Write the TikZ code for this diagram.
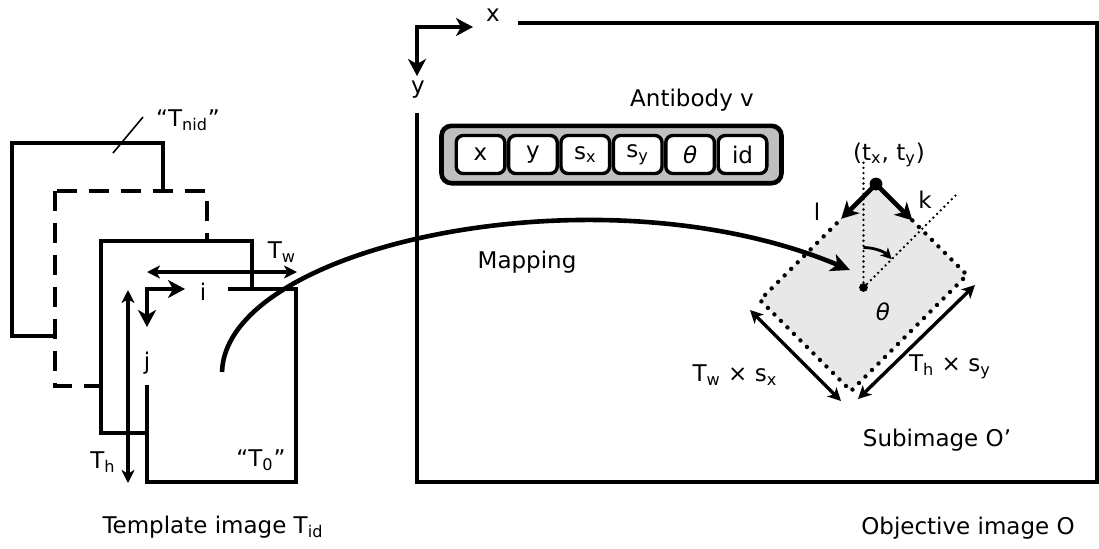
\documentclass[tikz,border=0pt]{standalone}
\usepackage{fontspec}
\setmainfont{DejaVu Sans}
\usetikzlibrary{arrows.meta,positioning,fit,backgrounds,calc}

\begin{document}
\begin{tikzpicture}[
  x=0.5pt,y=-0.5pt,
  every node/.style={font=\fontsize{11.5}{13}\selectfont,inner sep=0pt},
  frame/.style={line width=2.3pt},
  axis/.style={line width=2.3pt,-{Stealth[length=8.5pt,width=9pt,inset=2.5pt]}},
  biaxis/.style={line width=2.3pt,{Stealth[length=8.5pt,width=9pt,inset=2.5pt]}-{Stealth[length=8.5pt,width=9pt,inset=2.5pt]}},
  dim/.style={line width=1.7pt,{Stealth[length=6.5pt,width=6.5pt,inset=1.8pt]}-{Stealth[length=6.5pt,width=6.5pt,inset=1.8pt]}},
  dots/.style={line width=2.2pt,line cap=round,dash pattern=on 0pt off 4.6pt},
  finedots/.style={line width=1.3pt,line cap=round,dash pattern=on 0pt off 2.6pt},
  cell/.style={draw,line width=1.7pt,fill=white,rounded corners=3.5pt,minimum width=24.3pt,minimum height=19pt},
  vector/.style={draw,line width=2.3pt,fill=gray!50,rounded corners=5pt,inner xsep=6.5pt,inner ysep=4pt},
  node distance=0.2pt
]
\useasboundingbox (0,0) rectangle (1099,548);

% template stack
\draw[frame,fill=white] (12,143) rectangle (163,336);
\draw[frame,dash pattern=on 10pt off 6pt,fill=white] (55,191) rectangle (207,386);
\draw[frame,fill=white] (101,241) rectangle (252,433);
\fill[white] (147,289) rectangle (296,482);
\draw[frame] (228,289) -- (296,289) -- (296,482) -- (147,482) -- (147,385);

\coordinate (torigin) at (147,289);
\coordinate (iend) at (185,289);
\coordinate (jend) at (147,327);
\draw[biaxis] (iend) -- (torigin) -- (jend);
\node (ilabel) at (203,292) {i};
\node (jlabel) at (147,363) {j};

\coordinate (twleft) at (147,272);
\coordinate (twright) at (297,272);
\draw[dim] (twleft) -- (twright);
\node (twlabel) at (282,252) {T\textsubscript{w}};
\coordinate (thtop) at (128,290);
\coordinate (thbottom) at (128,483);
\draw[dim] (thtop) -- (thbottom);
\node (thlabel) at (103,462) {T\textsubscript{h}};

\node (tzero) at (261,460) {“T\textsubscript{0}”};
\node (tnid) at (188,120) {“T\textsubscript{nid}”};
\coordinate (nidfoot) at (113,153);
\coordinate (nidhead) at (143,117);
\draw[line width=0.8pt] (nidfoot) -- (nidhead);
\node (template) at (213,527) {Template image T\textsubscript{id}};

% objective image
\draw[frame] (518,23) -- (1097,23) -- (1097,482) -- (417,482) -- (417,113);
\coordinate (oorigin) at (417,27);
\coordinate (xend) at (473,27);
\coordinate (yend) at (417,76);
\draw[biaxis] (xend) -- (oorigin) -- (yend);
\node (xlabel) at (493,15) {x};
\node (ylabel) at (418,90) {y};
\node (objective) at (968,528) {Objective image O};

% antibody
\node (antlabel) at (692,100) {Antibody v};
\node[cell] (cx) at (480.5,154.5) {x};
\node[cell,right=of cx] (cy) {y};
\node[cell,right=of cy] (csx) {s\textsubscript{x}};
\node[cell,right=of csx] (csy) {s\textsubscript{y}};
\node[cell,right=of csy] (ctheta) {\itshape θ};
\node[cell,right=of ctheta] (cid) {id};
\begin{scope}[on background layer]
\node[vector,fit=(cx)(cid)] (antibody) {};
\end{scope}

% subimage
\coordinate (T) at (876,184);
\coordinate (R) at (967,275);
\coordinate (B) at (851,391);
\coordinate (L) at (760,300);
\coordinate (C) at ($(T)!0.5!(B)$);
\coordinate (ltip) at ($(T)!0.3!(L)$);
\coordinate (ktip) at ($(T)!0.4!(R)$);
\fill[black!9] (T) -- (R) -- (B) -- (L) -- cycle;
\draw[dots] (ktip) -- (R) -- (B) -- (L) -- (ltip);
\coordinate (vtop) at ($(C)+(0,-128)$);
\coordinate (dtop) at ($(C)+(94,-94)$);
\draw[finedots] (C) -- (vtop);
\draw[finedots] (C) -- (dtop);
\coordinate (arcstart) at ($(C)+(0,-40)$);
\coordinate (arcend) at ($(C)+(28.3,-28.3)$);
\draw[line width=1.4pt,-{Stealth[length=5.5pt,width=5.5pt,inset=1.5pt]}] (arcstart) .. controls ($(arcstart)+(10.6,0)$) and ($(arcend)+(-7.5,-7.5)$) .. (arcend);
\fill (C) circle (2.2pt);
\draw[axis] (T) -- (ltip);
\draw[axis] (T) -- (ktip);
\fill (T) circle (3.2pt);
\node (tpos) at (889,155) {(t\textsubscript{x}, t\textsubscript{y})};
\node (llabel) at (817,212) {l};
\node (klabel) at (925,200) {k};
\node (thetalabel) at (883,312) {\itshape θ};

\coordinate (wfrom) at ($(L)+(-10,10)$);
\coordinate (wto) at ($(B)+(-10,10)$);
\draw[dim] (wfrom) -- (wto);
\coordinate (hfrom) at ($(R)+(8,10)$);
\coordinate (hto) at ($(B)+(7,8)$);
\draw[dim] (hfrom) -- (hto);
\node (wlabel) at (735,375) {T\textsubscript{w} × s\textsubscript{x}};
\node (hlabel) at (950,367) {T\textsubscript{h} × s\textsubscript{y}};
\node (subimage) at (937,440) {Subimage O’};

% mapping
\node (maplabel) at (527,262) {Mapping};
\coordinate (mapfrom) at (222,372);
\coordinate (mapto) at (850,270);
\draw[line width=2.3pt,-{Stealth[length=9.5pt,width=9pt,inset=2.5pt]}] (mapfrom) .. controls (226,245) and (600,165) .. (mapto);
\end{tikzpicture}
\end{document}
